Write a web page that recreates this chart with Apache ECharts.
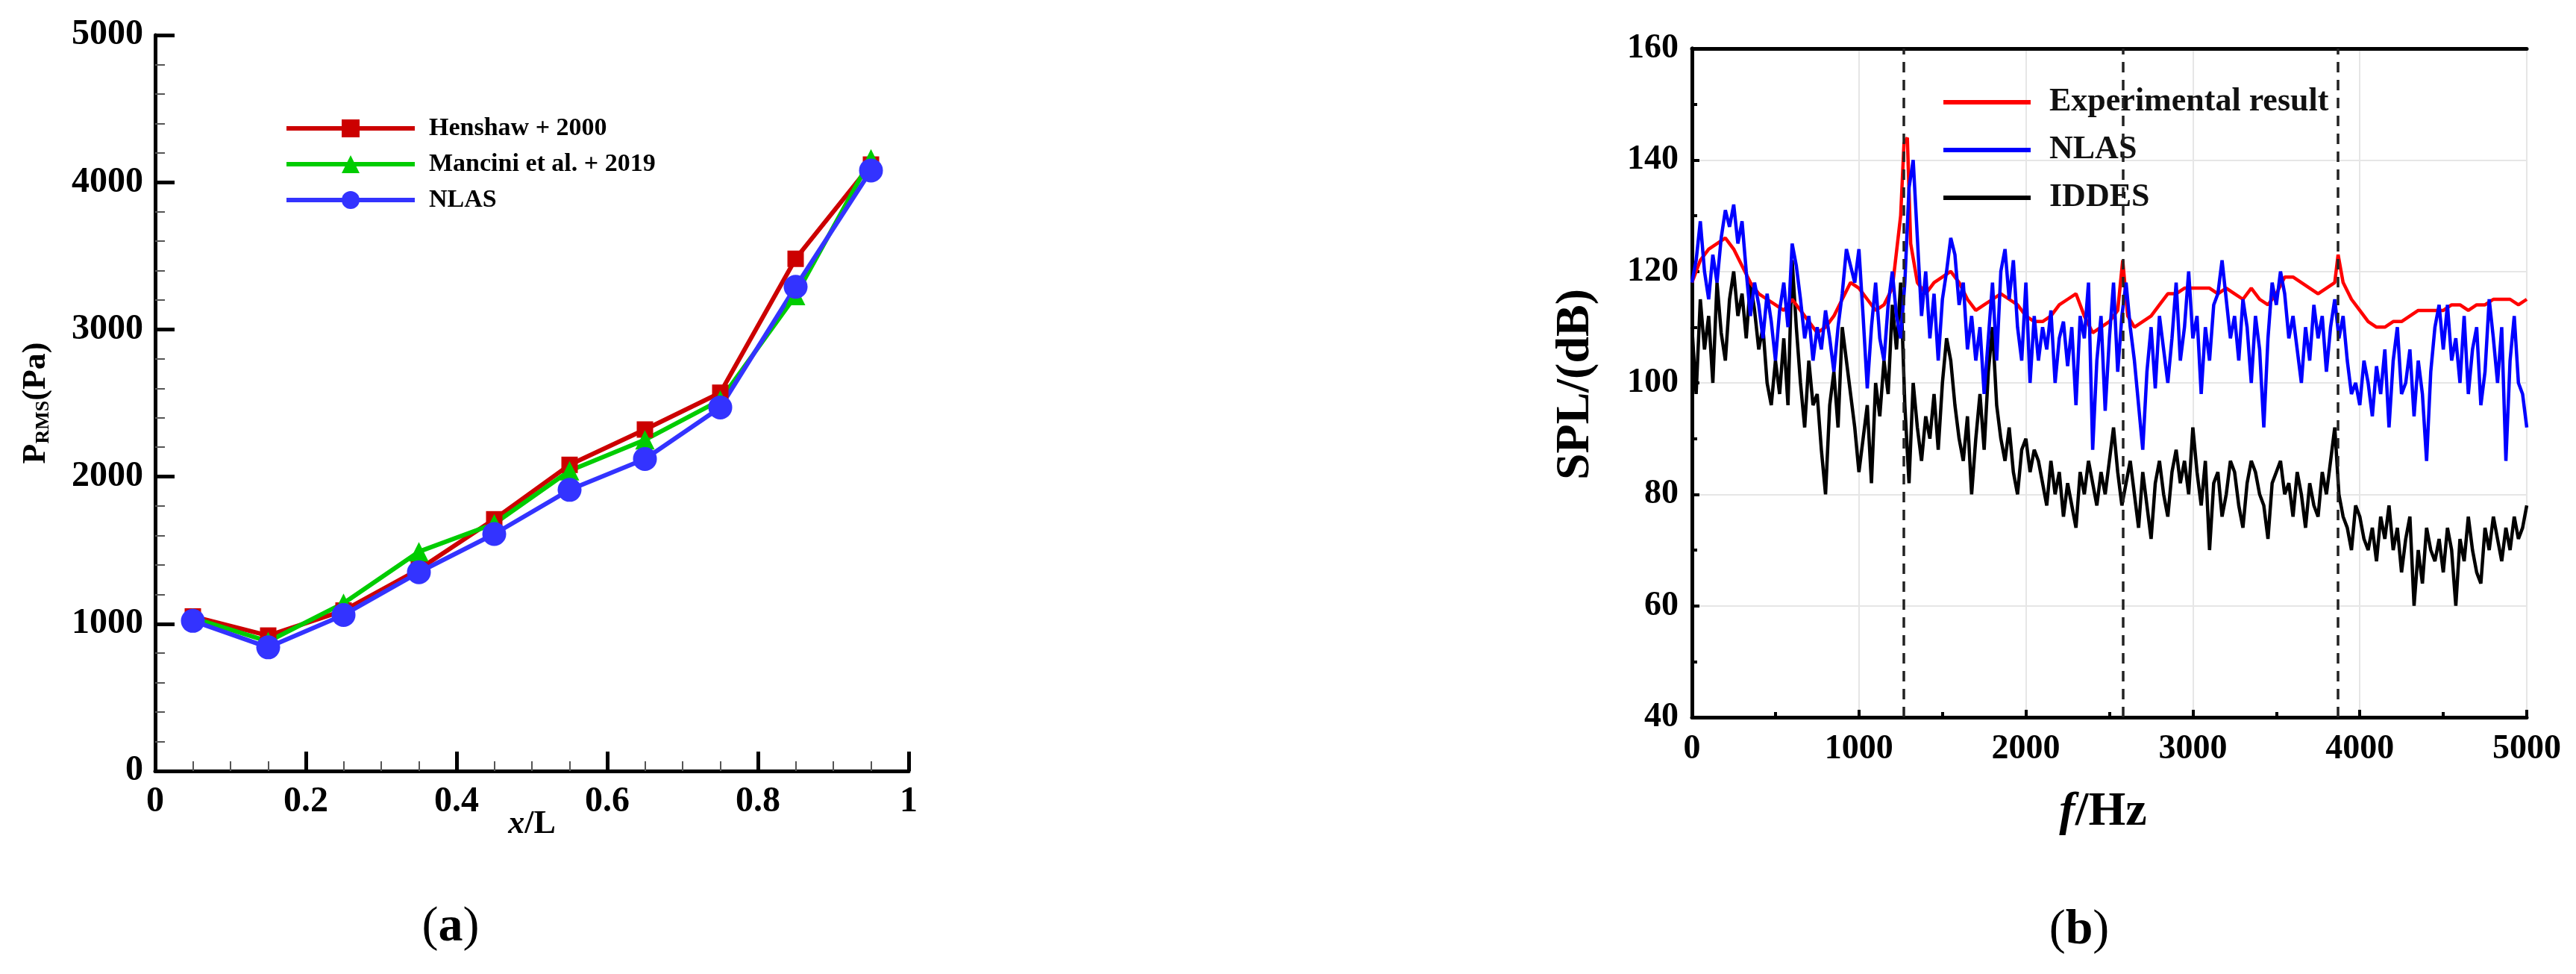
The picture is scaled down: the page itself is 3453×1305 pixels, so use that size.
<!DOCTYPE html>
<html>
<head>
<meta charset="utf-8">
<script src="https://cdn.jsdelivr.net/npm/echarts@6/dist/echarts.min.js"></script>
<style>
  html, body { margin: 0; padding: 0; background: #fff; }
  #chart { width: 3453px; height: 1305px; }
</style>
</head>
<body>
<div id="chart"></div>
<script>
// ---- 图(a) 数据
const xL = [0.05, 0.15, 0.25, 0.35, 0.45, 0.55, 0.65, 0.75, 0.85, 0.95]
const henshaw = [1050, 920, 1090, 1370, 1710, 2080, 2320, 2570, 3480, 4120]
const mancini = [1040, 880, 1140, 1490, 1680, 2040, 2250, 2520, 3230, 4160]
const nlasA = [1020, 840, 1060, 1350, 1610, 1910, 2120, 2470, 3290, 4080]

// ---- 图(b) 数据
const freqExp = [0,50,100,150,200,250,300,350,400,450,500,550,600,650,700,750,800,850,900,950,1000,1050,1100,1150,1200,1250,1270,1290,1310,1350,1400,1450,1500,1550,1600,1650,1700,1750,1800,1850,1900,1950,2000,2050,2100,2150,2200,2250,2300,2350,2400,2450,2500,2550,2580,2610,2650,2700,2750,2800,2850,2900,2950,3000,3050,3100,3150,3200,3250,3300,3350,3400,3450,3500,3550,3600,3650,3700,3750,3800,3850,3870,3900,3950,4000,4050,4100,4150,4200,4250,4300,4350,4400,4450,4500,4550,4600,4650,4700,4750,4800,4850,4900,4950,5000]
const splExp = [118,122,124,125,126,124,121,118,116,115,114,113,115,113,111,109,110,112,115,118,117,115,113,114,117,130,143,144,125,118,116,118,119,120,118,115,113,114,115,116,115,114,112,111,111,112,114,115,116,112,109,110,111,113,122,112,110,111,112,114,116,116,117,117,117,117,116,117,116,115,117,115,114,116,119,119,118,117,116,117,118,123,118,115,113,111,110,110,111,111,112,113,113,113,113,114,114,113,114,114,115,115,115,114,115]
const freqStep = 25 // NLAS / IDDES 采样间隔
const splNlas = [
  118,122,129,120,115,123,118,126,131,128,132,125,129,120,112,118,114,108,116,111,
  104,113,118,110,125,121,115,108,112,104,110,106,113,108,102,110,116,124,121,118,
  124,112,99,110,118,108,104,114,120,112,108,118,135,140,126,112,120,108,116,104,
  115,120,126,123,114,118,106,112,104,110,98,108,118,104,120,124,115,122,110,104,
  118,100,112,104,110,106,113,100,108,111,103,110,96,112,108,118,88,104,112,95,
  108,118,102,112,118,110,104,96,88,102,110,99,112,106,100,108,118,104,110,120,
  108,112,98,110,104,114,116,122,115,108,112,104,115,110,100,112,106,92,108,118,
  114,120,116,108,112,106,100,110,104,114,108,112,102,110,115,108,112,104,98,100,
  96,104,100,94,103,98,106,92,104,110,98,100,106,94,104,98,86,102,110,114,
  106,114,104,108,100,112,98,106,110,96,102,115,108,100,110,86,104,112,100,98,
  92]
const splIddes = [
  110,98,115,106,112,100,118,109,104,115,120,112,116,108,118,113,106,110,100,96,
  104,98,108,96,122,110,100,92,104,96,98,88,80,96,102,92,110,104,98,92,
  84,90,96,82,100,94,104,98,114,106,118,96,82,100,92,86,94,90,98,88,
  100,108,104,96,90,86,94,80,90,98,88,102,110,96,90,86,92,84,80,88,
  90,84,88,86,82,78,86,80,84,76,82,78,74,84,80,86,82,78,84,80,
  86,92,84,78,82,86,80,74,84,78,72,82,86,80,76,84,88,82,86,80,
  92,84,78,86,70,82,84,76,80,86,84,78,74,82,86,84,80,78,72,82,
  84,86,80,82,76,84,80,74,82,78,76,84,80,86,92,80,76,74,70,78,
  76,72,70,74,68,76,72,78,70,74,66,72,76,60,70,64,74,70,68,72,
  66,74,70,60,72,68,76,70,66,64,74,70,76,72,68,74,70,76,72,74,
  78]
const peakLines = [1270, 2580, 3870]

let pairs = (xs, ys) => ys.map((v, i) => [xs[i], v])
let stepPairs = (ys) => ys.map((v, i) => [i * freqStep, v])

const font = 'Times New Roman, Liberation Serif, serif'
let axisFont = (size) => ({ fontFamily: font, fontWeight: 'bold', fontSize: size, color: '#000', formatter: v => String(v) })

let option = {
  animation: false,
  textStyle: { fontFamily: font },
  grid: [
    { left: 208, top: 47, width: 1010, height: 986 },
    { left: 2268, top: 65, width: 1119, height: 896 }
  ],
  xAxis: [
    {
      gridIndex: 0, type: 'value', min: 0, max: 1, interval: 0.2,
      axisLine: { lineStyle: { color: '#000', width: 5 } },
      axisTick: { inside: true, length: 26, lineStyle: { color: '#000', width: 5 } },
      minorTick: { show: true, splitNumber: 4, length: 13, lineStyle: { color: '#555', width: 2 } },
      axisLabel: Object.assign(axisFont(48), { margin: 18 }),
      splitLine: { show: false }
    },
    {
      gridIndex: 1, type: 'value', min: 0, max: 5000, interval: 1000,
      axisLine: { lineStyle: { color: '#000', width: 5 } },
      axisTick: { inside: true, length: 10, lineStyle: { color: '#000', width: 4 } },
      minorTick: { show: true, splitNumber: 2, length: 7, lineStyle: { color: '#000', width: 4 } },
      axisLabel: Object.assign(axisFont(46), { margin: 20 }),
      splitLine: { show: true, lineStyle: { color: '#e6e6e6', width: 2 } }
    },
    {
      gridIndex: 1, type: 'value', min: 0, max: 5000, position: 'top',
      axisLine: { show: true, onZero: false, lineStyle: { color: '#000', width: 5 } },
      axisTick: { show: false }, axisLabel: { show: false }, splitLine: { show: false }
    }
  ],
  yAxis: [
    {
      gridIndex: 0, type: 'value', min: 0, max: 5000, interval: 1000,
      axisLine: { show: true, lineStyle: { color: '#000', width: 5 } },
      axisTick: { show: true, inside: true, length: 26, lineStyle: { color: '#000', width: 5 } },
      minorTick: { show: true, splitNumber: 5, length: 13, lineStyle: { color: '#555', width: 2 } },
      axisLabel: Object.assign(axisFont(48), { margin: 16 }),
      splitLine: { show: false }
    },
    {
      gridIndex: 1, type: 'value', min: 40, max: 160, interval: 20,
      axisLine: { show: true, lineStyle: { color: '#000', width: 5 } },
      axisTick: { show: true, inside: true, length: 10, lineStyle: { color: '#000', width: 4 } },
      minorTick: { show: true, splitNumber: 2, length: 7, lineStyle: { color: '#000', width: 4 } },
      axisLabel: Object.assign(axisFont(46), { margin: 18 }),
      splitLine: { show: true, lineStyle: { color: '#e6e6e6', width: 2 } }
    },
    {
      gridIndex: 1, type: 'value', min: 40, max: 160, position: 'right',
      axisLine: { show: true, lineStyle: { color: '#000', width: 5 } },
      axisTick: { show: false }, axisLabel: { show: false }, splitLine: { show: false }
    }
  ],
  legend: [
    {
      left: 376, top: 150, orient: 'vertical', itemGap: 14, itemWidth: 172, itemHeight: 30,
      data: ['Henshaw + 2000', 'Mancini et al. + 2019', 'NLAS '],
      lineStyle: { width: 6 },
      textStyle: { fontFamily: font, fontWeight: 'bold', fontSize: 34, color: '#000', padding: [0, 0, 0, 14] }
    },
    {
      left: 2600, top: 110, orient: 'vertical', itemGap: 20, itemWidth: 117, itemHeight: 6,
      icon: 'rect',
      data: ['Experimental result', 'NLAS', 'IDDES'],
      textStyle: { fontFamily: font, fontWeight: 'bold', fontSize: 44, color: '#111', padding: [0, 0, 0, 20] }
    }
  ],
  series: [
    {
      name: 'Henshaw + 2000', type: 'line', xAxisIndex: 0, yAxisIndex: 0,
      data: pairs(xL, henshaw), color: '#cc0000', symbol: 'rect', symbolSize: 22,
      lineStyle: { width: 6 }
    },
    {
      name: 'Mancini et al. + 2019', type: 'line', xAxisIndex: 0, yAxisIndex: 0,
      data: pairs(xL, mancini), color: '#00cc00', symbol: 'triangle', symbolSize: 26,
      lineStyle: { width: 6 }
    },
    {
      name: 'NLAS ', type: 'line', xAxisIndex: 0, yAxisIndex: 0,
      data: pairs(xL, nlasA), color: '#3333ff', symbol: 'circle', symbolSize: 32,
      lineStyle: { width: 6 }
    },
    {
      name: 'IDDES', type: 'line', xAxisIndex: 1, yAxisIndex: 1,
      data: stepPairs(splIddes), color: '#000', showSymbol: false, lineStyle: { width: 4.5 }
    },
    {
      name: 'Experimental result', type: 'line', xAxisIndex: 1, yAxisIndex: 1,
      data: pairs(freqExp, splExp), color: '#ff0000', showSymbol: false, lineStyle: { width: 4.5 }
    },
    {
      name: 'NLAS', type: 'line', xAxisIndex: 1, yAxisIndex: 1,
      data: stepPairs(splNlas), color: '#0000ff', showSymbol: false, lineStyle: { width: 4.5 },
      markLine: {
        silent: true, symbol: 'none', label: { show: false },
        lineStyle: { color: '#222', type: [14, 10], width: 3.5 },
        data: peakLines.map(f => ({ xAxis: f }))
      }
    }
  ],
  graphic: [
    {
      type: 'text', x: 49, y: 540, rotation: Math.PI / 2, originX: 0, originY: 0,
      style: {
        text: '{p|P}{s|RMS}{p|(Pa)}', align: 'center', verticalAlign: 'middle',
        rich: {
          p: { fontFamily: font, fontWeight: 'bold', fontSize: 44, fill: '#000', verticalAlign: 'bottom' },
          s: { fontFamily: font, fontWeight: 'bold', fontSize: 26, fill: '#000', verticalAlign: 'bottom' }
        }
      }
    },
    {
      type: 'text', x: 713, y: 1105,
      style: {
        text: '{i|x}{n|/L}', align: 'center', verticalAlign: 'middle',
        rich: {
          i: { fontFamily: font, fontWeight: 'bold', fontStyle: 'italic', fontSize: 44, fill: '#000' },
          n: { fontFamily: font, fontWeight: 'bold', fontSize: 44, fill: '#000' }
        }
      }
    },
    {
      type: 'text', x: 2112, y: 515, rotation: Math.PI / 2,
      style: {
        text: 'SPL/(dB)', align: 'center', verticalAlign: 'middle',
        fontFamily: font, fontWeight: 'bold', fontSize: 64, fill: '#000'
      }
    },
    {
      type: 'text', x: 2819, y: 1088,
      style: {
        text: '{i|f}{n|/Hz}', align: 'center', verticalAlign: 'middle',
        rich: {
          i: { fontFamily: font, fontWeight: 'bold', fontStyle: 'italic', fontSize: 64, fill: '#000' },
          n: { fontFamily: font, fontWeight: 'bold', fontSize: 64, fill: '#000' }
        }
      }
    },
    {
      type: 'text', x: 604, y: 1243,
      style: {
        text: '({b|a})', align: 'center', verticalAlign: 'middle',
        fontFamily: font, fontSize: 66, fill: '#000',
        rich: { b: { fontFamily: font, fontWeight: 'bold', fontSize: 66, fill: '#000' } }
      }
    },
    {
      type: 'text', x: 2787, y: 1247,
      style: {
        text: '({b|b})', align: 'center', verticalAlign: 'middle',
        fontFamily: font, fontSize: 66, fill: '#000',
        rich: { b: { fontFamily: font, fontWeight: 'bold', fontSize: 66, fill: '#000' } }
      }
    }
  ]
}

let mychart = echarts.init(document.querySelector('#chart'))
mychart.setOption(option)
</script>
</body>
</html>
